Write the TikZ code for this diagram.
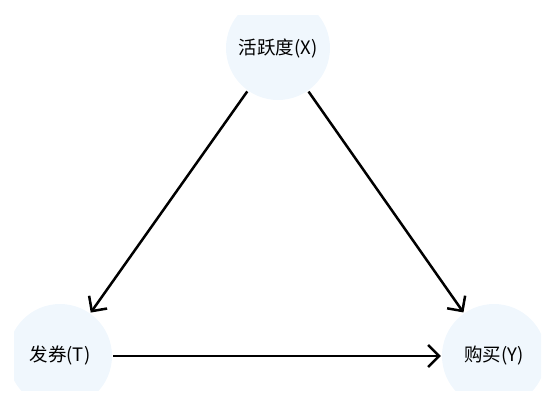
\documentclass[tikz,border=0pt]{standalone}
\usepackage{fontspec}
\setmainfont{Noto Sans CJK SC}
\usetikzlibrary{arrows.meta}
\definecolor{nodefill}{RGB}{240,247,253}
\tikzset{
  vnode/.style={circle,fill=nodefill,minimum size=104pt,inner sep=0pt,font=\fontsize{18.5}{20}\selectfont},
  causal/.style={line width=2.5pt,-{Straight Barb[length=11pt,width=22pt,line width=2.5pt]},shorten <=1pt,shorten >=1pt}
}
\begin{document}
\begin{tikzpicture}[x=1pt,y=-1pt]
\useasboundingbox (0,0) rectangle (555,405);
\begin{scope}
\clip (14,15) rectangle (541,390);
\node[vnode] (X) at (278,48) {活跃度(X)};
\node[vnode] (T) at (60,356) {发券(T)};
\node[vnode] (Y) at (494,356) {购买(Y)};
\end{scope}
\draw[causal] (X) -- (T);
\draw[causal] (X) -- (Y);
\draw[causal] (T) -- (Y);
\end{tikzpicture}
\end{document}
